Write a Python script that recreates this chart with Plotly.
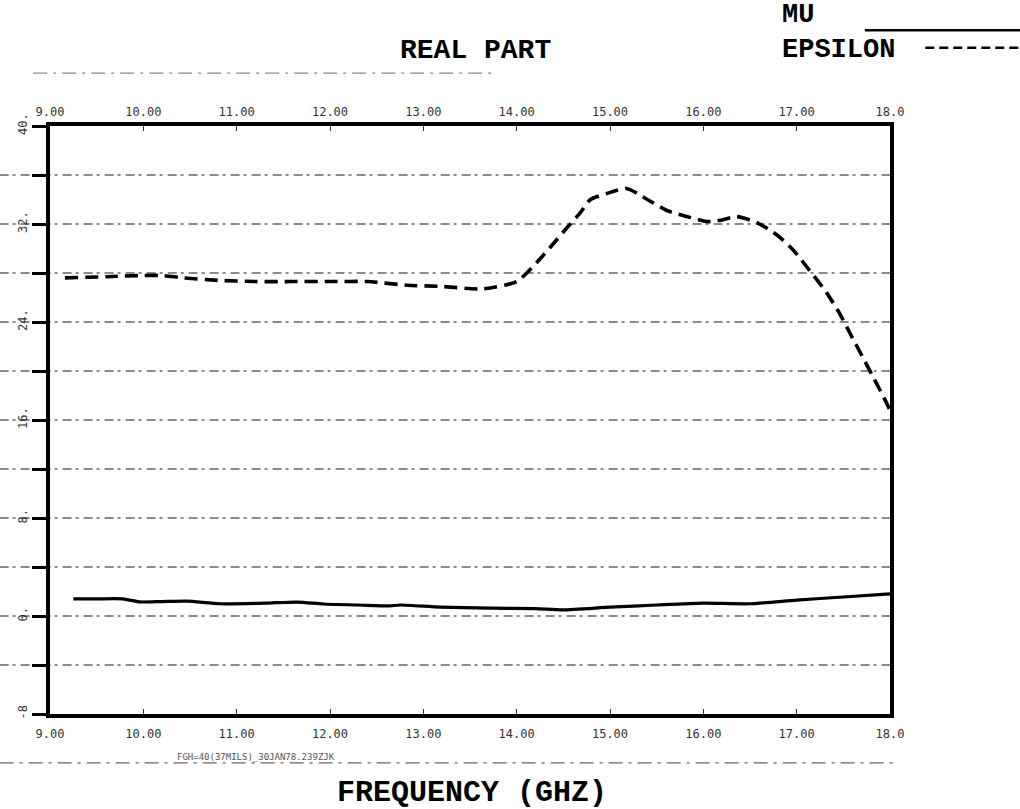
import plotly.graph_objects as go

# ---- data ----
mu_freq = [9.25, 9.5, 9.78, 9.96, 10.2, 10.47, 10.82, 11.3, 11.65, 11.93, 12.3, 12.64, 12.75,
           13.18, 13.71, 14.2, 14.5, 15.0, 15.5, 16.0, 16.5, 17.0, 17.5, 18.0]
mu_real = [1.4, 1.4, 1.4, 1.15, 1.18, 1.22, 1.0, 1.05, 1.14, 0.98, 0.9, 0.82, 0.9,
           0.73, 0.65, 0.6, 0.5, 0.72, 0.9, 1.05, 1.0, 1.3, 1.55, 1.8]

eps_freq = [9.16, 9.61, 10.0, 10.2, 10.43, 10.8, 11.2, 11.6, 12.0, 12.4, 12.83, 13.2, 13.64,
            14.0, 14.22, 14.36, 14.54, 14.68, 14.79, 14.97, 15.18, 15.4, 15.61, 15.83, 16.04,
            16.18, 16.36, 16.58, 16.79, 16.96, 17.14, 17.32, 17.46, 17.57, 17.71, 17.82, 17.95, 18.0]
eps_real = [27.6, 27.7, 27.8, 27.8, 27.6, 27.4, 27.3, 27.3, 27.3, 27.3, 27.0, 26.9, 26.7,
            27.3, 28.9, 30.1, 31.7, 32.9, 34.0, 34.5, 34.9, 34.0, 33.1, 32.6, 32.2,
            32.3, 32.6, 32.1, 31.1, 29.9, 28.2, 26.4, 24.7, 23.1, 21.1, 19.5, 17.6, 16.8]

x_ticks = [9, 10, 11, 12, 13, 14, 15, 16, 17, 18]
x_top_labels = ["9.00", "10.00", "11.00", "12.00", "13.00", "14.00", "15.00", "16.00", "17.00", "18.0"]
x_bot_labels = ["9.00", "10.00", "11.00", "12.00", "13.00", "14.00", "15.00", "16.00", "17.00", "18.0"]
y_ticks = [40, 36, 32, 28, 24, 20, 16, 12, 8, 4, 0, -4, -8]
y_labels = ["40.", "", "32.", "", "24.", "", "16.", "", "8.", "", "0.", "", "-8"]
grid_levels = [36, 32, 28, 24, 20, 16, 12, 8, 4, 0, -4]

mono = "Liberation Mono"
tickfont = dict(family="DejaVu Sans Mono", size=12, color="#333333")

fig = go.Figure()
fig.add_trace(go.Scatter(x=mu_freq, y=mu_real, mode="lines", name="MU",
                         line=dict(color="black", width=3.2, shape="spline", smoothing=0.6)))
fig.add_trace(go.Scatter(x=eps_freq, y=eps_real, mode="lines", name="EPSILON",
                         line=dict(color="black", width=3.6, dash="13px,7px",
                                   shape="spline", smoothing=0.6)))
# invisible trace to carry the top axis
fig.add_trace(go.Scatter(x=eps_freq, y=eps_real, xaxis="x2", mode="lines",
                         line=dict(color="rgba(0,0,0,0)"), showlegend=False, hoverinfo="skip"))

shapes = []
for g in grid_levels:
    shapes.append(dict(type="line", xref="paper", yref="y", x0=-0.06, x1=1.0, y0=g, y1=g,
                       line=dict(color="#666666", width=1.4, dash="9px,4px,3px,5px"), layer="below"))
# legend samples
shapes.append(dict(type="line", xref="paper", yref="paper", x0=0.970, x1=1.16, y0=1.163, y1=1.163,
                   line=dict(color="black", width=2.5)))
shapes.append(dict(type="line", xref="paper", yref="paper", x0=1.042, x1=1.16, y0=1.133, y1=1.133,
                   line=dict(color="black", width=2.5, dash="9px,5px")))
# scan artefact lines
shapes.append(dict(type="line", xref="paper", yref="paper", x0=-0.02, x1=0.53, y0=1.09, y1=1.09,
                   line=dict(color="#888888", width=1.2, dash="14px,6px,3px,6px")))
shapes.append(dict(type="line", xref="paper", yref="paper", x0=-0.06, x1=1.01, y0=-0.083, y1=-0.083,
                   line=dict(color="#666666", width=1.2, dash="14px,6px,3px,6px")))

annotations = [
    dict(text="<b>REAL PART</b>", xref="paper", yref="paper", x=0.506, y=1.129,
         showarrow=False, font=dict(family=mono, size=28, color="black"), xanchor="center", yanchor="middle"),
    dict(text="<b>FREQUENCY (GHZ)</b>", xref="paper", yref="paper", x=0.502, y=-0.134,
         showarrow=False, font=dict(family=mono, size=30, color="black"), xanchor="center", yanchor="middle"),
    dict(text="<b>MU</b>", xref="paper", yref="paper", x=0.869, y=1.189,
         showarrow=False, font=dict(family=mono, size=27, color="black"), xanchor="left", yanchor="middle"),
    dict(text="<b>EPSILON</b>", xref="paper", yref="paper", x=0.869, y=1.129,
         showarrow=False, font=dict(family=mono, size=27, color="black"), xanchor="left", yanchor="middle"),
    dict(text="FGH=40(37MILS)_30JAN78.239ZJK", xref="paper", yref="paper", x=0.149, y=-0.073,
         showarrow=False, font=dict(family="DejaVu Sans Mono", size=9, color="#555555"),
         xanchor="left", yanchor="middle"),
]

fig.update_layout(
    width=1020, height=809,
    margin=dict(l=50, r=130, t=126, b=95, autoexpand=False),
    paper_bgcolor="white", plot_bgcolor="white",
    showlegend=False,
    shapes=shapes, annotations=annotations,
    xaxis=dict(range=[9, 18], tickvals=x_ticks, ticktext=x_bot_labels, showgrid=False, zeroline=False,
               showline=True, linecolor="black", linewidth=3.5, mirror=True,
               ticks="inside", ticklen=5, tickcolor="#333333", tickfont=tickfont,
               ticklabelstandoff=6),
    xaxis2=dict(range=[9, 18], overlaying="x", side="top", tickvals=x_ticks, ticktext=x_top_labels,
                showgrid=False, zeroline=False, showline=False,
                ticks="inside", ticklen=5, tickcolor="#333333", tickfont=tickfont,
                ticklabelstandoff=7),
    yaxis=dict(range=[-8, 40], tickvals=y_ticks, ticktext=y_labels, tickangle=-90,
               showgrid=False, zeroline=False,
               showline=True, linecolor="black", linewidth=3.5, mirror=True,
               ticks="outside", ticklen=14, tickwidth=2.5, tickcolor="black", tickfont=tickfont),
)

fig.write_html("out.html", config={"displayModeBar": False},
               post_script="document.body.style.margin='0px';document.body.style.overflow='hidden';")
